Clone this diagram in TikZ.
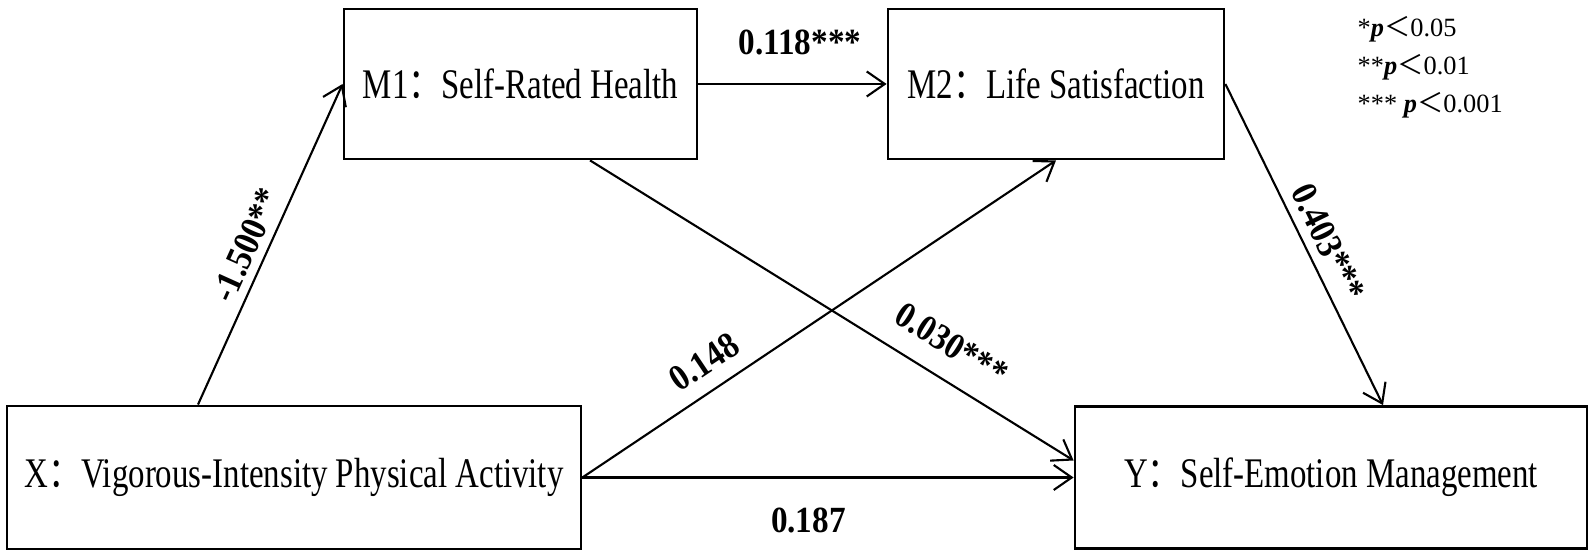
\documentclass[tikz,border=0pt]{standalone}
\usepackage{fontspec}
\setmainfont{Liberation Serif}
\newfontfamily\boxfont{Liberation Serif}[FakeStretch=0.78]
\newfontfamily\coeffont{Liberation Serif}[FakeStretch=0.9]
\newfontfamily\cjk{Noto Sans CJK SC}[FakeStretch=0.78]
\newfontfamily\cjknote{Noto Sans CJK SC}
\usetikzlibrary{arrows.meta}
\tikzstyle{block} = [rectangle, minimum height=1.5cm, text centered, draw=black, line width=0.8pt, font=\boxfont\fontsize{12}{14}\selectfont]
\tikzstyle{arrow} = [line width=0.6pt,->,>={Straight Barb[length=0.18cm,width=0.25cm]}]
\tikzstyle{coef} = [inner sep=0pt, font=\coeffont\bfseries\fontsize{10.5}{12}\selectfont]

\begin{document}
\begin{tikzpicture}
    \useasboundingbox (0,0) rectangle (15.96,5.58);

    \node [block, minimum width=5.74cm, minimum height=1.43cm] (X) at (2.94,0.805) {X{\cjk ：}Vigorous-Intensity Physical Activity};
    \node [block, minimum width=5.12cm, minimum height=1.42cm, right of = X, xshift = 9.37cm] (Y) {Y{\cjk ：}Self-Emotion Management};
    \node [block, minimum width=3.53cm, above of = X, xshift = 2.265cm, yshift = 2.935cm] (M1) {M1{\cjk ：}Self-Rated Health};
    \node [block, minimum width=3.36cm, right of = M1, xshift = 4.355cm] (M2) {M2{\cjk ：}Life Satisfaction};

    \draw [arrow] ([xshift=-0.96cm]X.north) -- node [coef, pos=0.47, sloped, above=0.08cm] (cxm1) {-1.500**} (M1.west);
    \draw [arrow] (M1.east) -- node [coef, pos=0.54, above=0.28cm] (cm1m2) {0.118***} (M2.west);
    \draw [arrow] ([xshift=0.695cm]M1.south) -- node [coef, pos=0.71, sloped, above=0.21cm] (cm1y) {0.030***} ([yshift=0.17cm]Y.west);
    \draw [arrow] (X.east) -- node [coef, pos=0.29, sloped, above=0.145cm] (cxm2) {0.148} (M2.south);
    \draw [arrow] (X.east) -- node [coef, pos=0.46, below=0.29cm] (cxy) {0.187} (Y.west);
    \draw [arrow] (M2.east) -- node [coef, pos=0.525, sloped, above=0.09cm] (cm2y) {0.403***} ([xshift=0.52cm]Y.north);

    % significance levels
    \node [inner sep=0pt, anchor=north west, align=left, font=\fontsize{7.5}{10.8}\selectfont] (note) at (13.57,5.42) {*\textbf{\textit{p}}{\cjknote ＜}0.05\\**\textbf{\textit{p}}{\cjknote ＜}0.01\\*** \textbf{\textit{p}}{\cjknote ＜}0.001};
\end{tikzpicture}
\end{document}
